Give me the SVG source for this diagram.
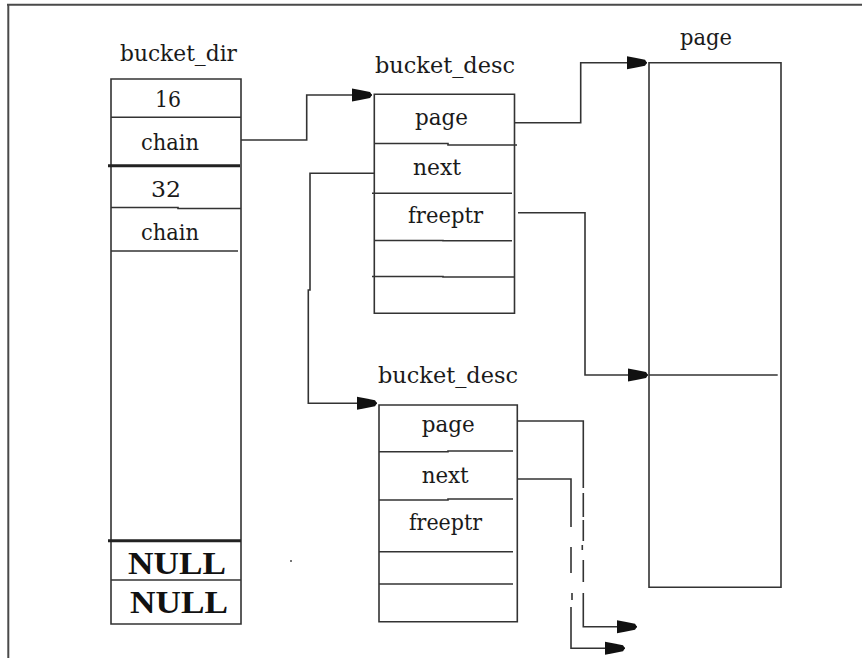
<svg xmlns="http://www.w3.org/2000/svg" width="862" height="658" viewBox="0 0 862 658">
<style>
.bg{fill:#ffffff}
.frame{stroke:#4a4a4a;stroke-width:2;fill:none}
.box{stroke:#333333;stroke-width:1.6;fill:none}
.ln{stroke:#333333;stroke-width:1.6;fill:none}
.thick{stroke:#222222;stroke-width:3;fill:none}
.t{font-family:"DejaVu Serif","Liberation Serif",serif;font-size:22px;fill:#1a1a1a}
.nul{font-family:"Liberation Serif","DejaVu Serif",serif;font-size:31px;font-weight:bold;fill:#111111}
.con{stroke:#333333;stroke-width:1.6;fill:none}
</style>
<defs>
<marker id="arr" markerUnits="userSpaceOnUse" markerWidth="24" markerHeight="16" viewBox="-22 -8 24 16" refX="0" refY="0" orient="auto" overflow="visible">
<path d="M-20,-6.5 L-12,-5 L-2,-3 L0,0 L-2,3 L-12,5 L-20,6.5 Z" fill="#111111"/>
</marker>
</defs>
<rect class="bg" x="0" y="0" width="862" height="658"/>
<g id="frame">
<path class="frame" d="M7,4.7 H862 M8.3,4 V658"/>
</g>
<g id="bucket_dir">
<text class="t" x="120" y="61" textLength="117" lengthAdjust="spacingAndGlyphs">bucket_dir</text>
<path class="box" d="M111,79 H241 V624 H111 Z"/>
<path class="ln" d="M111,117.3 H241"/>
<path class="thick" d="M108,165.7 H240"/>
<path class="ln" d="M111,207.5 H178 V208.5 H241"/>
<path class="ln" d="M111,251 H238"/>
<path class="thick" d="M108,540.7 H241"/>
<path class="ln" d="M111,580 H241"/>
<text class="t" x="155" y="107" textLength="26" lengthAdjust="spacingAndGlyphs">16</text>
<text class="t" x="141" y="150" textLength="58" lengthAdjust="spacingAndGlyphs">chain</text>
<text class="t" x="151" y="196.5" textLength="30" lengthAdjust="spacingAndGlyphs">32</text>
<text class="t" x="141" y="240" textLength="58" lengthAdjust="spacingAndGlyphs">chain</text>
<text class="nul" x="128" y="574" textLength="98" lengthAdjust="spacingAndGlyphs">NULL</text>
<text class="nul" x="130" y="613" textLength="98" lengthAdjust="spacingAndGlyphs">NULL</text>
</g>
<g id="bucket_desc_1">
<text class="t" x="375" y="73" textLength="140" lengthAdjust="spacingAndGlyphs">bucket_desc</text>
<path class="box" d="M374.3,94.3 H514.5 V313.3 H374.3 Z"/>
<path class="ln" d="M374,143.5 H448 V145 H517"/>
<path class="ln" d="M372,193.3 H512"/>
<path class="ln" d="M374,240.5 H443 V240.8 H512"/>
<path class="ln" d="M372,276.5 H443 V277 H515"/>
<text class="t" x="415" y="125" textLength="53" lengthAdjust="spacingAndGlyphs">page</text>
<text class="t" x="413" y="175" textLength="48" lengthAdjust="spacingAndGlyphs">next</text>
<text class="t" x="408" y="223" textLength="75" lengthAdjust="spacingAndGlyphs">freeptr</text>
</g>
<g id="bucket_desc_2">
<text class="t" x="378" y="383" textLength="140" lengthAdjust="spacingAndGlyphs">bucket_desc</text>
<path class="box" d="M379,405 H517.3 V621.7 H379 Z"/>
<path class="ln" d="M379,451.7 H448 V451 H513"/>
<path class="ln" d="M379,500 H448 V499 H513"/>
<path class="ln" d="M379,551.7 H513"/>
<path class="ln" d="M379,584 H513"/>
<text class="t" x="421.7" y="431.7" textLength="53" lengthAdjust="spacingAndGlyphs">page</text>
<text class="t" x="421.7" y="483" textLength="47" lengthAdjust="spacingAndGlyphs">next</text>
<text class="t" x="409" y="530" textLength="73" lengthAdjust="spacingAndGlyphs">freeptr</text>
</g>
<g id="page">
<text class="t" x="680" y="45" textLength="52" lengthAdjust="spacingAndGlyphs">page</text>
<path class="box" d="M649,62.7 H781 V587.3 H649 Z"/>
<path class="ln" d="M649,375 H777.7"/>
</g>
<g id="connectors">
<path class="con" d="M241,140 H306.7 V95 H372" marker-end="url(#arr)"/>
<path class="con" d="M374,173.3 H310 V290 H308.3 V403.3 H377" marker-end="url(#arr)"/>
<path class="con" d="M515,122.7 H580.7 V62.7 H647" marker-end="url(#arr)"/>
<path class="con" d="M518,212.7 H585 V375 H648" marker-end="url(#arr)"/>
<path class="con" d="M517,421 H583.3 V488"/>
<path class="con" d="M583.3,493 V517 M583.3,520 V541 M582.3,545 V550 M583.3,560 V582"/>
<path class="con" d="M583.3,593 V626.7 H637" marker-end="url(#arr)"/>
<path class="con" d="M517,479 H571 V527"/>
<path class="con" d="M571,547 V573 M572,593 V600"/>
<path class="con" d="M571,607 V648.3 H625" marker-end="url(#arr)"/>
</g>
<rect x="290" y="560" width="2" height="2" fill="#777777"/>
</svg>
